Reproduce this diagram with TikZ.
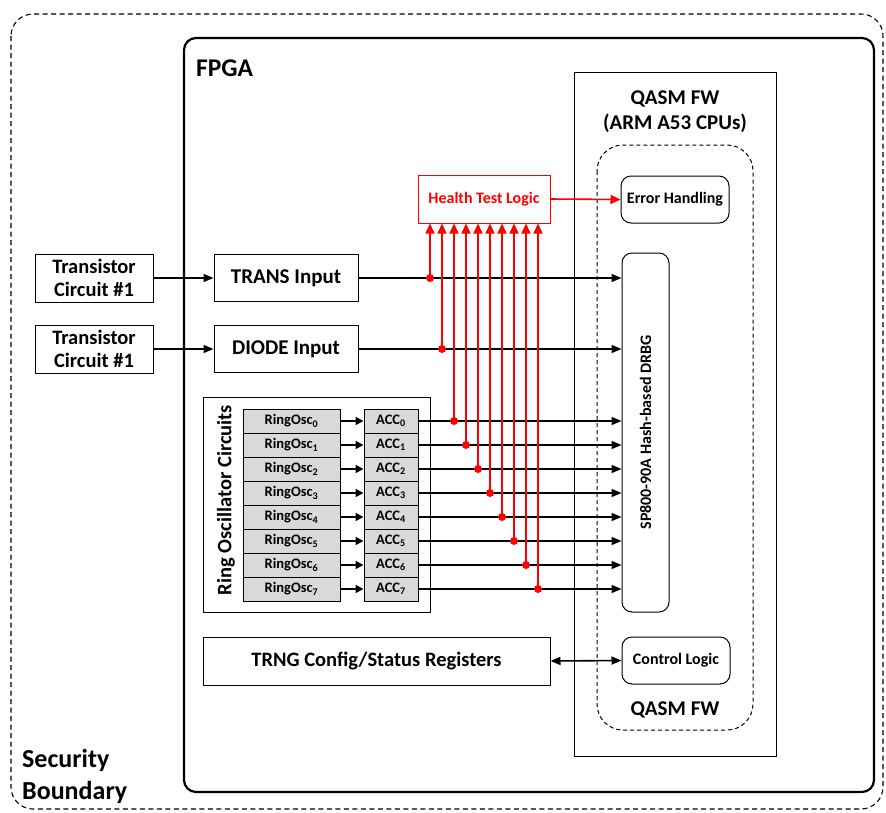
\documentclass[tikz,border=0pt]{standalone}
\usepackage{fontspec}
\setmainfont{Carlito}
\usetikzlibrary{arrows.meta}
\definecolor{ro}{RGB}{217,217,217}
\definecolor{htred}{RGB}{255,0,0}
\begin{document}
\begin{tikzpicture}[x=1pt,y=-1pt,
  fnt/.style={font=\bfseries\fontsize{#1}{#1}\selectfont},
  box/.style={draw, line width=1pt, inner sep=0pt, align=center},
  rbox/.style={box, rounded corners=10pt},
  arr/.style={line width=1.6pt, -{Triangle[length=10pt,width=8pt]}},
  sarr/.style={line width=1.6pt, -{Triangle[length=8pt,width=8pt]}},
  darr/.style={line width=1.6pt, {Triangle[length=10pt,width=8pt]}-{Triangle[length=10pt,width=8pt]}},
  rarr/.style={line width=1.6pt, htred, -{Triangle[length=10pt,width=9pt]}},
  tapdot/.style={circle, fill=htred, inner sep=0pt, minimum size=8pt},
  rosc/.style={box, fill=ro, minimum width=97pt, minimum height=24pt, fnt=14.5},
  acc/.style={box, fill=ro, minimum width=54pt, minimum height=24pt, fnt=14.5}
]
\useasboundingbox (0,0) rectangle (886,812);

% security boundary
\draw[line width=1.1pt, dash pattern=on 5pt off 3.5pt, rounded corners=22pt] (11,14) rectangle (883,809);
\node[fnt=26, align=left, anchor=west, inner sep=0pt] (secb) at (22,776) {Security\\[6pt]Boundary};

% FPGA
\draw[line width=2.2pt, rounded corners=12pt] (184,38) rectangle (874,792);
\node[fnt=25.5, anchor=base west, inner sep=0pt] (fpga) at (196,76) {FPGA};

% QASM box
\draw[line width=1pt] (574,72) rectangle (776,756);
\node[fnt=21, align=center, inner sep=0pt] (qasmt) at (675,112) {QASM FW\\[4pt](ARM A53 CPUs)};
\draw[line width=1pt, dash pattern=on 4pt off 3pt, rounded corners=26pt] (597,145) rectangle (753,730);
\node[fnt=21, inner sep=0pt] (qasmb) at (675,710) {QASM FW};

\node[rbox, minimum width=108pt, minimum height=47pt, fnt=16] (eh) at (675,199.5) {Error Handling};
\node[rbox, minimum width=47pt, minimum height=359pt] (drbg) at (645.5,432.5) {};
\node[fnt=16, rotate=90, inner sep=0pt] (drbgt) at (drbg.center) {SP800-90A Hash-based DRBG};
\node[rbox, minimum width=108pt, minimum height=47pt, fnt=16] (ctrl) at (676,660.5) {Control Logic};

% inputs
\node[box, minimum width=118pt, minimum height=48pt, fnt=20.5] (tc1) at (94,278) {Transistor\\[2pt]Circuit \#1};
\node[box, minimum width=118pt, minimum height=48pt, fnt=20.5] (tc2) at (94,349) {Transistor\\[2pt]Circuit \#1};
\node[box, minimum width=144pt, minimum height=47pt, fnt=21] (trans) at (286,278) {TRANS Input};
\node[box, minimum width=144pt, minimum height=47pt, fnt=21] (diode) at (286,349) {DIODE Input};
\draw[arr] (tc1) -- (trans);
\draw[arr] (tc2) -- (diode);
\draw[arr] (trans.east) -- (trans.east -| drbg.west);
\draw[arr] (diode.east) -- (diode.east -| drbg.west);

% ring oscillators
\node[box, minimum width=227pt, minimum height=215pt] (rob) at (316.5,504.5) {};
\node[fnt=20.5, rotate=90, inner sep=0pt] (robt) at (226,500) {Ring Oscillator Circuits};
\foreach \i in {0,...,7} {
  \node[rosc] (ro\i) at (291.5,{421+24*\i}) {RingOsc\textsubscript{\i}};
  \node[acc] (acc\i) at (391,{421+24*\i}) {ACC\textsubscript{\i}};
  \draw[sarr] (ro\i) -- (acc\i);
  \draw[arr] (acc\i.east) -- (acc\i.east -| drbg.west);
}

% TRNG config
\node[box, minimum width=347pt, minimum height=48pt, fnt=20.5] (trng) at (376.5,661) {TRNG Config/Status Registers};
\draw[darr] (trng.east) -- (ctrl.west);

% health test
\node[box, draw=htred, text=htred, minimum width=132pt, minimum height=48pt, fnt=16] (htl) at (484,199) {Health Test Logic};
\draw[rarr] (htl.east) -- (eh.west);
\coordinate (tap0) at (430,278);
\coordinate (tap1) at (442,349);
\foreach \i in {0,...,7} {
  \pgfmathtruncatemacro{\k}{\i+2}
  \coordinate (tap\k) at ({454+12*\i},{421+24*\i});
}
\foreach \k in {0,...,9} {
  \draw[rarr] (tap\k) -- (tap\k |- htl.south);
  \node[tapdot] (dot\k) at (tap\k) {};
}
\end{tikzpicture}
\end{document}
